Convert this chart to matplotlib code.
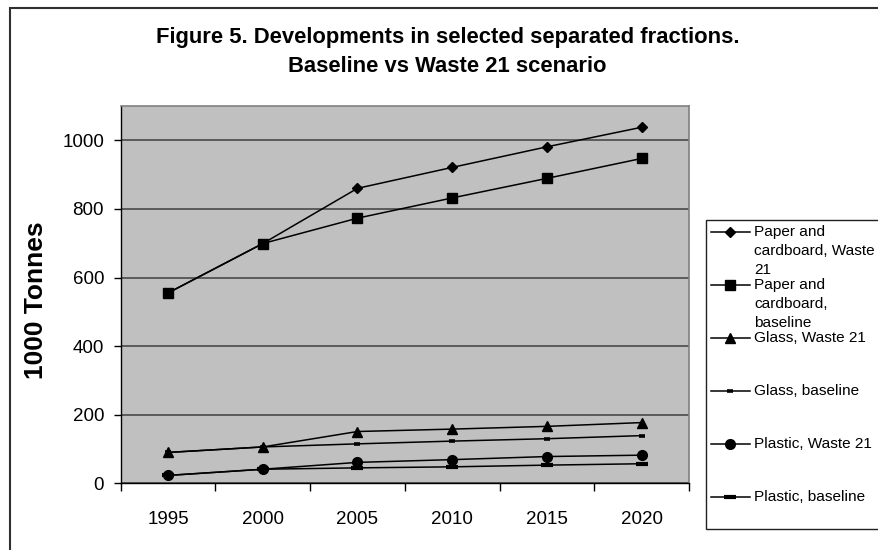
"""Separated waste fractions, baseline vs Waste 21 scenario (1995-2020)."""
from __future__ import annotations

import matplotlib

matplotlib.use("Agg")
import matplotlib.pyplot as plt
from matplotlib.lines import Line2D
from matplotlib.patches import Rectangle

plt.rcParams["font.family"] = ["Liberation Sans", "DejaVu Sans"]

years = ["1995", "2000", "2005", "2010", "2015", "2020"]

paper_w21 = [555, 699, 860, 921, 981, 1038]
paper_base = [555, 699, 773, 832, 889, 947]
glass_w21 = [90, 106, 151, 158, 166, 177]
glass_base = [90, 106, 115, 123, 130, 139]
plastic_w21 = [23, 41, 61, 69, 78, 82]
plastic_base = [23, 41, 45, 48, 53, 57]

labels = [
    "Paper and\ncardboard, Waste\n21",
    "Paper and\ncardboard,\nbaseline",
    "Glass, Waste 21",
    "Glass, baseline",
    "Plastic, Waste 21",
    "Plastic, baseline",
]

title_lines = [
    "Figure 5. Developments in selected separated fractions.",
    "Baseline vs Waste 21 scenario",
]
y_label = "1000 Tonnes"
y_ticks = [0, 200, 400, 600, 800, 1000]

W, H = 879, 550  # px at dpi 100

# marker styles, one per series: (marker, size pt, edge width pt)
styles = [
    ("D", 5.0, 1.0),
    ("s", 6.5, 1.0),
    ("^", 7.0, 1.0),
    ("_", 5.0, 2.6),
    ("o", 7.0, 1.0),
    ("_", 8.5, 3.0),
]


def fx(px):
    return px / W


def fy(px):
    return 1 - px / H


def draw_legend(fig, series_styles):
    top, bottom, left = 220, 529, 706
    lax = fig.add_axes([fx(left), fy(bottom), 1 - fx(left), (bottom - top) / H])
    lax.set_xlim(0, W - left)
    lax.set_ylim(bottom - top, 0)
    lax.axis("off")
    lax.add_patch(Rectangle((0, 0), 400, bottom - top, fill=False,
                            ec="#202020", lw=1.0, clip_on=False))
    y0, step, line_h = 12, 53, 19
    for k, (label, (m, ms, mew)) in enumerate(zip(labels, series_styles)):
        y = y0 + k * step
        lax.add_line(Line2D([5, 44], [y, y], color="black", lw=1.1, clip_on=False))
        lax.plot([24.5], [y], marker=m, ms=ms, mew=mew, color="black",
                 mfc="black", mec="black", clip_on=False)
        for i, part in enumerate(label.split("\n")):
            lax.text(48, y + i * line_h, part, fontsize=11.1, va="center",
                     ha="left", color="black")


def main() -> None:
    fig = plt.figure(figsize=(W / 100, H / 100), dpi=100)
    fig.patch.set_facecolor("white")

    # outer chart frame, cut by the image on the right and bottom
    fig.add_artist(Rectangle((fx(10), -0.1), 1.2, fy(7.5) + 0.1, transform=fig.transFigure,
                             fill=False, ec="#303030", lw=1.5))

    ax = fig.add_axes([fx(120.7), fy(483.3), fx(689) - fx(120.7), (483.3 - 106) / H])
    ax.set_facecolor("#C0C0C0")

    x = list(range(len(years)))
    series = [paper_w21, paper_base, glass_w21, glass_base, plastic_w21, plastic_base]
    for vals, (m, ms, mew) in zip(series, styles):
        ax.plot(x, vals, color="black", lw=1.1, marker=m, ms=ms, mew=mew,
                mfc="black", mec="black", zorder=3)

    ax.set_ylim(0, 1100)
    ax.set_xlim(-0.5, len(years) - 0.5)
    ax.set_yticks(y_ticks)
    ax.set_yticklabels([str(t) for t in y_ticks], fontsize=13.5)
    ax.yaxis.grid(True, color="#404040", lw=1.1)
    ax.set_axisbelow(True)

    # category boundaries carry the tick marks, labels sit in between
    ax.set_xticks([i - 0.5 for i in range(len(years) + 1)])
    ax.set_xticklabels([])
    ax.set_xticks(x, minor=True)
    ax.set_xticklabels(years, minor=True, fontsize=13.5)
    ax.tick_params(axis="x", which="major", length=6, width=1.0, color="black", direction="out")
    ax.tick_params(axis="x", which="minor", length=0, pad=20)
    ax.tick_params(axis="y", length=5, width=1.0, color="black", pad=7)

    for side in ("left", "bottom"):
        ax.spines[side].set_color("black")
        ax.spines[side].set_linewidth(1.0)
    for side in ("top", "right"):
        ax.spines[side].set_color("#808080")
        ax.spines[side].set_linewidth(1.2)

    fig.text(fx(447.5), fy(37), title_lines[0], fontsize=15.8, fontweight="bold",
             ha="center", va="center")
    fig.text(fx(447.5), fy(66), title_lines[1], fontsize=15.8, fontweight="bold",
             ha="center", va="center")
    fig.text(fx(36), fy(300), y_label, fontsize=19, fontweight="bold",
             rotation=90, ha="center", va="center")

    draw_legend(fig, styles)

    fig.savefig("out.png", dpi=100)
    plt.close(fig)


if __name__ == "__main__":
    main()
